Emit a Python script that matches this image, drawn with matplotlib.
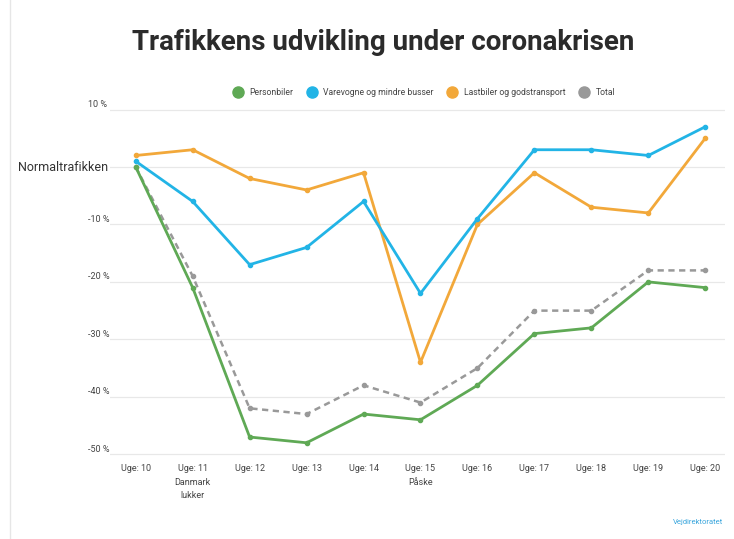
import matplotlib
matplotlib.use("Agg")
import matplotlib.pyplot as plt
from matplotlib.lines import Line2D
from matplotlib.patches import Rectangle

# data (change vs. normal traffic, %)
weeks = ["Uge: 10", "Uge: 11\nDanmark\nlukker", "Uge: 12", "Uge: 13", "Uge: 14",
         "Uge: 15\nPåske", "Uge: 16", "Uge: 17", "Uge: 18", "Uge: 19", "Uge: 20"]
personbiler = [0, -21, -47, -48, -43, -44, -38, -29, -28, -20, -21]
varevogne = [1, -6, -17, -14, -6, -22, -9, 3, 3, 2, 7]
lastbiler = [2, 3, -2, -4, -1, -34, -10, -1, -7, -8, 5]
total = [0, -19, -42, -43, -38, -41, -35, -25, -25, -18, -18]

y_ticks = [10, 0, -10, -20, -30, -40, -50]
y_labels = ["10 %", "", "-10 %", "-20 %", "-30 %", "-40 %", "-50 %"]

GREEN = "#5fa955"
BLUE = "#22b4e6"
ORANGE = "#f2a83a"
GRAY = "#999999"
TXT = "#444444"

plt.rcParams["font.family"] = ["Roboto", "DejaVu Sans"]

fig = plt.figure(figsize=(7.34, 5.39), dpi=100)
fig.patches.append(Rectangle((0.013, -0.01), 0.99, 1.02, transform=fig.transFigure,
                             fill=False, edgecolor="#e6e6e6", linewidth=1))
ax = fig.add_axes([0.150, 0.154, 0.838, 0.646])

x = list(range(len(weeks)))
ax.plot(x, lastbiler, color=ORANGE, lw=2, marker="o", ms=3, zorder=3)
ax.plot(x, varevogne, color=BLUE, lw=2, marker="o", ms=3, zorder=4)
ax.plot(x, total, color=GRAY, lw=1.8, ls=(0, (2.5, 1.8)), marker="o", ms=3, zorder=3)
ax.plot(x, personbiler, color=GREEN, lw=2, marker="o", ms=3, zorder=3)

ax.set_xlim(-0.45, 10.35)
ax.set_ylim(-50.3, 10.3)
ax.set_yticks(y_ticks)
ax.set_yticklabels([])
ax.tick_params(axis="y", length=0)
# value labels sit just above the grid lines, left of the plot area
for v, lab in zip(y_ticks, y_labels):
    ax.text(-0.036, v + 0.9, lab, transform=ax.get_yaxis_transform(),
            fontsize=6.5, color=TXT, ha="left", va="center")
ax.set_xticks(x)
ax.set_xticklabels(weeks, fontsize=6.5, color=TXT, linespacing=1.6, va="top")
ax.tick_params(axis="x", length=0, pad=6)
ax.grid(axis="y", color="#e8e8e8", lw=0.9)
ax.set_axisbelow(True)
for s in ax.spines.values():
    s.set_visible(False)

fig.text(0.024, 0.690, "Normaltrafikken", fontsize=9, color="#333333", va="center")
fig.text(0.522, 0.922, "Trafikkens udvikling under coronakrisen", fontsize=20,
         fontweight="bold", color="#2b2b2b", ha="center", va="center")

handles = [Line2D([], [], ls="", marker="o", ms=8, color=c)
           for c in (GREEN, BLUE, ORANGE, GRAY)]
labels = ["Personbiler", "Varevogne og mindre busser", "Lastbiler og godstransport", "Total"]
fig.legend(handles, labels, loc="center", bbox_to_anchor=(0.575, 0.829), ncol=4,
           frameon=False, fontsize=6.2, handletextpad=0.3, columnspacing=1.2,
           labelcolor=TXT)

fig.text(0.985, 0.032, "Vejdirektoratet", fontsize=5.5, color="#3aa6dd",
         ha="right", va="center")

fig.savefig("out.png", dpi=100)
